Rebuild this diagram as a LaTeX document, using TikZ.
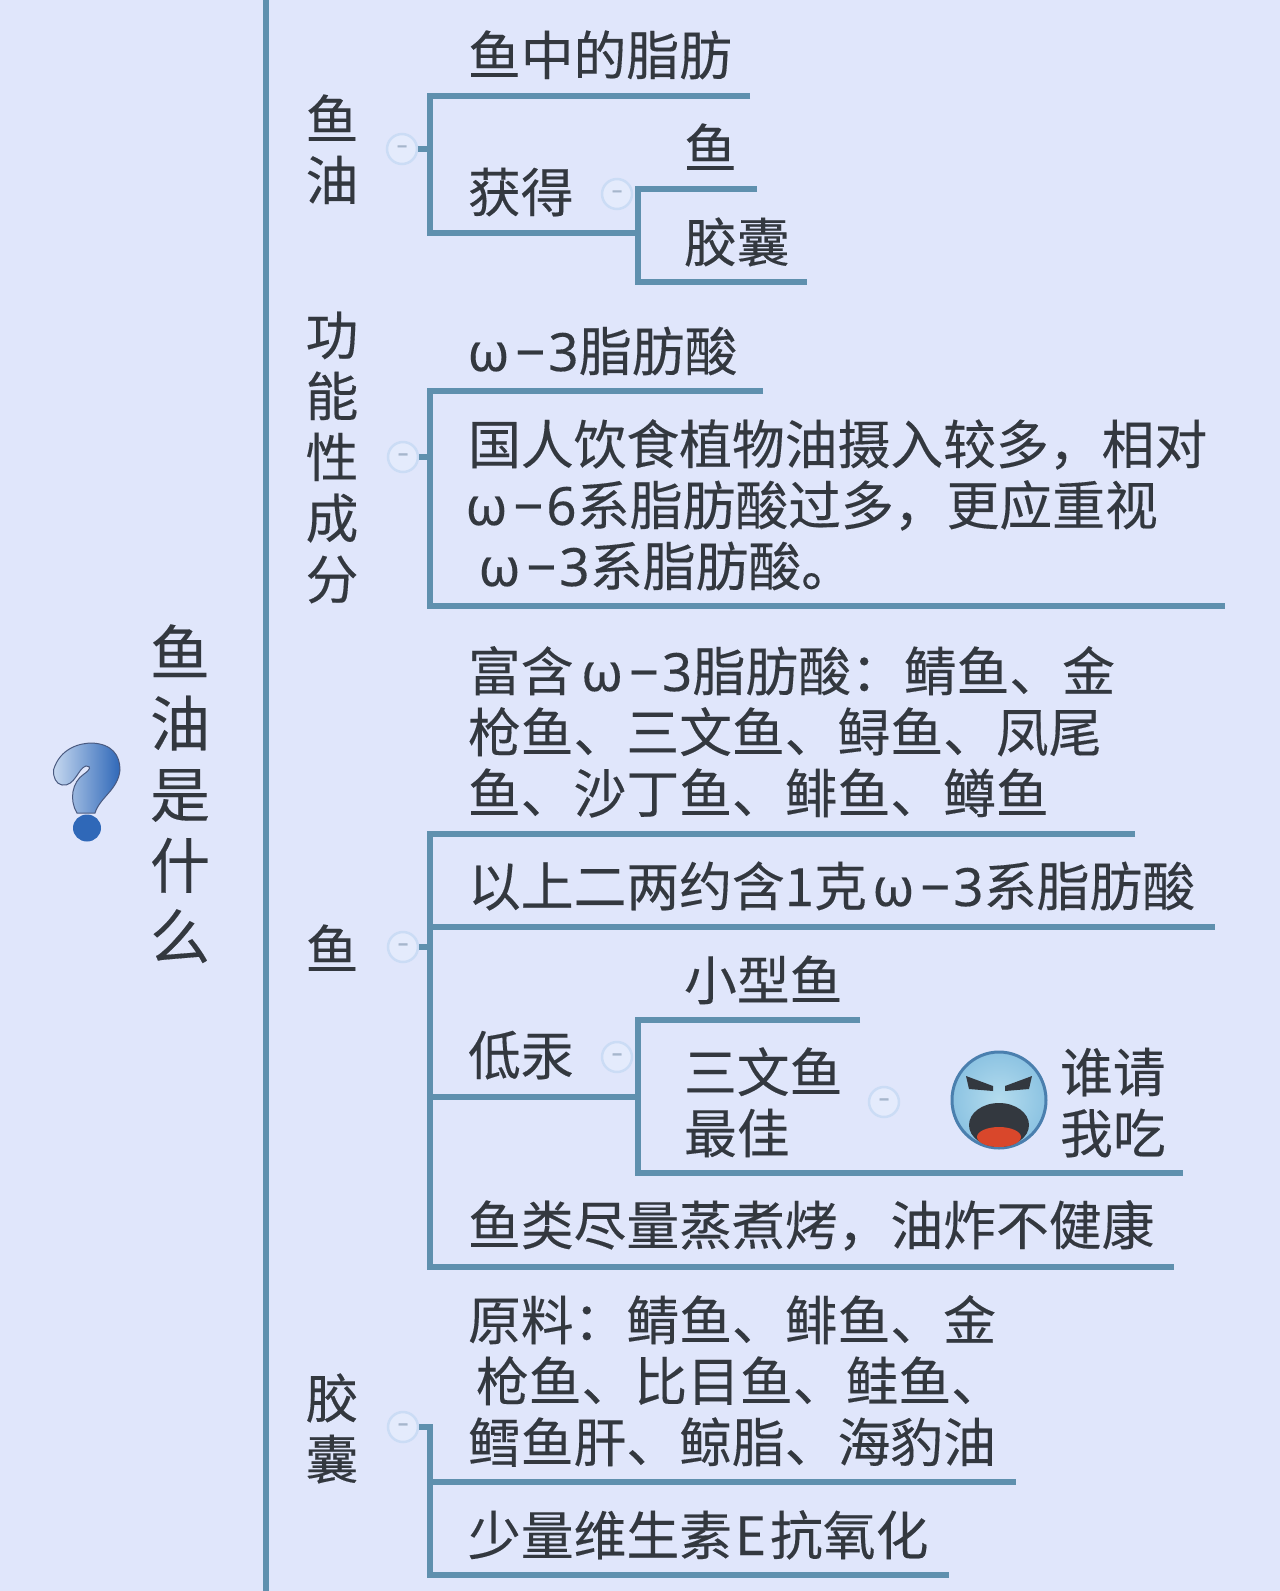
\documentclass[tikz,border=0pt]{standalone}
\usepackage{fontspec}
\setmainfont{Noto Sans CJK SC}[FakeBold=0.25]
\newfontfamily\latinfont{Noto Sans}[FakeBold=0.25]
\usetikzlibrary{calc}
\definecolor{bgc}{HTML}{E0E6FB}
\definecolor{linec}{HTML}{5F90AE}
\definecolor{textc}{HTML}{33383F}
\definecolor{togc}{HTML}{CBDCF5}
\definecolor{togf}{HTML}{E4EBFC}
\definecolor{togm}{HTML}{A6B6CC}
\definecolor{qlight}{HTML}{C6D8F0}
\definecolor{qdark}{HTML}{2F68B8}
\definecolor{qline}{HTML}{4A5A80}
\definecolor{facein}{HTML}{B4DCEE}
\definecolor{faceout}{HTML}{8CC3E2}
\definecolor{faceln}{HTML}{4A7FAE}
\definecolor{tongue}{HTML}{D9472B}
\newcommand{\omg}[1]{{\latinfont\makebox[37pt][c]{ω}\hspace{10pt}\makebox[27pt][c]{−}\hspace{6pt}\makebox[27pt][c]{#1}\hspace{2pt}}}
\tikzset{
  txt/.style={anchor=base west,inner sep=0pt,outer sep=0pt,text=textc,align=left,font=\fontsize{52.8}{61}\selectfont},
  vtxt/.style={anchor=base,inner sep=0pt,outer sep=0pt,text=textc,align=center,font=\fontsize{52.8}{61}\selectfont},
  roottxt/.style={anchor=base,inner sep=0pt,outer sep=0pt,text=textc,align=center,font=\fontsize{60}{71}\selectfont},
  tog/.style={circle,draw=togc,fill=togf,line width=2.5pt,minimum size=30pt,inner sep=0pt,text=togm,font=\fontsize{16}{16}\selectfont\bfseries},
  branch/.style={draw=linec,line width=5.5pt,line cap=butt,line join=miter},
  mainline/.style={draw=linec,line width=6pt}
}
\begin{document}
\begin{tikzpicture}[x=1pt,y=-1pt]
\useasboundingbox (0,0) rectangle (1280,1591);
\fill[bgc] (0,0) rectangle (1280,1591);

% main line
\coordinate (mtop) at (266,0);
\coordinate (mbot) at (266,1591);
\draw[mainline] (mtop) -- (mbot);

% root icon
\shade[left color=qlight,right color=qdark,draw=qline,line width=1pt]
  (53.5,770) .. controls (60,748) and (80,743) .. (92,743)
  .. controls (112,744) and (120,755) .. (120,770)
  .. controls (118,790) and (100,797) .. (95,813)
  -- (77,813) .. controls (69,800) and (72,782) .. (84,774)
  .. controls (90,770) and (92,766) .. (86,766)
  .. controls (78,768) and (75,787) .. (62,785)
  .. controls (56,784) and (53,777) .. (53.5,770) -- cycle;
\fill[qdark] (87,828) ellipse (14 and 13.5);

% root text
\node[roottxt] (root) at (180,959) {鱼\\油\\是\\什\\么};

% ---------- section 1 ----------
\node[vtxt] (s1) at (332,200) {鱼\\油};
\node[tog] (t1) at (402,149) {−};
\coordinate (b1top) at (430,96);
\coordinate (b1mid) at (430,149);
\coordinate (b1bot) at (430,233);
\coordinate (b1a) at (750,96);
\coordinate (b1b) at (638,233);
\draw[branch] (t1) -- (b1mid);
\draw[branch] (b1a) -- (b1top) -- (b1bot) -- (b1b);
\node[txt] (n1a) at (468,75) {鱼中的脂肪};
\node[txt] (n1b) at (468,212) {获得};
\node[tog] (t1b) at (617,194) {−};
\coordinate (b2top) at (638,189);
\coordinate (b2bot) at (638,282);
\coordinate (b2a) at (757,189);
\coordinate (b2b) at (807,282);
\draw[branch] (b2a) -- (b2top) -- (b2bot) -- (b2b);
\node[txt] (n1c) at (684,168) {鱼};
\node[txt] (n1d) at (684,262) {胶囊};

% ---------- section 2 ----------
\node[vtxt] (s2) at (332,599) {功\\能\\性\\成\\分};
\node[tog] (t2) at (403,457) {−};
\coordinate (c1top) at (430,391);
\coordinate (c1mid) at (430,457);
\coordinate (c1bot) at (430,606);
\coordinate (c1a) at (763,391);
\coordinate (c1b) at (1225,606);
\draw[branch] (t2) -- (c1mid);
\draw[branch] (c1a) -- (c1top) -- (c1bot) -- (c1b);
\node[txt] (n2a) at (470,371) {\omg{3}脂肪酸};
\node[txt] (n2b) at (468,586) {国人饮食植物油摄入较多，相对\\\omg{6}系脂肪酸过多，更应重视\\\hspace{13pt}\omg{3}系脂肪酸。};

% ---------- section 3 ----------
\node[vtxt] (s3) at (332,969) {鱼};
\node[tog] (t3) at (403,947) {−};
\coordinate (d1top) at (430,834);
\coordinate (d1mid) at (430,947);
\coordinate (d1bot) at (430,1267);
\coordinate (d1a) at (1135,834);
\coordinate (d1b) at (1215,927);
\coordinate (d1bl) at (430,927);
\coordinate (d1c) at (638,1097);
\coordinate (d1cl) at (430,1097);
\coordinate (d1d) at (1174,1267);
\draw[branch] (t3) -- (d1mid);
\draw[branch] (d1a) -- (d1top) -- (d1bot) -- (d1d);
\draw[branch] (d1bl) -- (d1b);
\draw[branch] (d1cl) -- (d1c);
\node[txt] (n3a) at (468,813) {富含\hspace{10pt}\omg{3}脂肪酸：鲭鱼、金\\枪鱼、三文鱼、鲟鱼、凤尾\\鱼、沙丁鱼、鲱鱼、鳟鱼};
\node[txt] (n3b) at (468,906) {以上二两约含1克\hspace{8pt}\omg{3}系脂肪酸};
\node[txt] (n3c) at (468,1075) {低汞};
\node[tog] (t3c) at (617,1057) {−};
\coordinate (e1top) at (638,1020);
\coordinate (e1bot) at (638,1173);
\coordinate (e1a) at (860,1020);
\coordinate (e1b) at (1183,1173);
\draw[branch] (e1a) -- (e1top) -- (e1bot) -- (e1b);
\node[txt] (n3d) at (684,1000) {小型鱼};
\node[txt] (n3e) at (684,1153) {三文鱼\\最佳};
\node[tog] (t3e) at (884,1102) {−};
\node[txt] (n3f) at (1060,1153) {谁请\\我吃};
\node[txt] (n3g) at (468,1245) {鱼类尽量蒸煮烤，油炸不健康};

% face icon
\begin{scope}[shift={(999,1100)}]
  \shade[inner color=facein,outer color=faceout,draw=faceln,line width=3pt] (0,0) ellipse (47 and 48);
  \fill[textc] (-33,-24) -- (-6,-14) -- (-6,-9) -- (-30,-11) -- cycle;
  \fill[textc] (33,-24) -- (6,-14) -- (6,-9) -- (30,-11) -- cycle;
  \fill[textc] (0,25) ellipse (30 and 22);
  \fill[tongue] (0,37) ellipse (22 and 10);
\end{scope}

% ---------- section 4 ----------
\node[vtxt] (s4) at (332,1479) {胶\\囊};
\node[tog] (t4) at (403,1427) {−};
\coordinate (f1top) at (430,1427);
\coordinate (f1bot) at (430,1575);
\coordinate (f1a) at (1016,1482);
\coordinate (f1al) at (430,1482);
\coordinate (f1b) at (949,1575);
\draw[branch] (t4) -- (f1top) -- (f1bot) -- (f1b);
\draw[branch] (f1al) -- (f1a);
\node[txt] (n4a) at (468,1462) {原料：鲭鱼、鲱鱼、金\\\hspace{8pt}枪鱼、比目鱼、鲑鱼、\\鳕鱼肝、鲸脂、海豹油};
\node[txt] (n4b) at (468,1555) {少量维生素\hspace{3pt}E\hspace{4pt}抗氧化};
\end{tikzpicture}
\end{document}
